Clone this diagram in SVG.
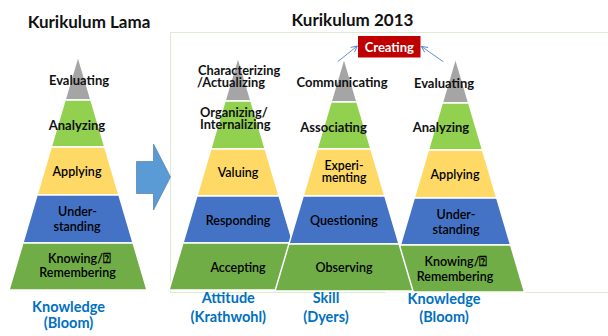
<svg xmlns="http://www.w3.org/2000/svg" width="608" height="336" viewBox="0 0 608 336">
<defs>
<style>
.b{stroke:#fff;stroke-width:1.5;stroke-linejoin:miter}
.g1{fill:#A5A5A5}.g2{fill:#92D050}.y{fill:#FFD966}.bl{fill:#4472C4}.gr{fill:#70AD47}
.gs{font-family:Lato,"Liberation Sans",sans-serif;font-weight:bold;font-size:13px;fill:#111;text-anchor:middle}
.sm{font-size:12.8px}
.st{text-anchor:start}
.cb{font-family:Lato,"DejaVu Sans","Liberation Sans",sans-serif;font-weight:600;font-size:12.5px;fill:#000;text-anchor:middle}
.lab{font-family:Lato,"Liberation Sans",sans-serif;font-weight:bold;font-size:14.5px;fill:#0070C0;text-anchor:middle}
.ttl{font-family:Lato,"Liberation Sans",sans-serif;font-weight:bold;font-size:17px;fill:#111;text-anchor:middle}
.con{stroke:#4472C4;stroke-width:0.8;fill:none}
</style>
<marker id="ah" markerWidth="8" markerHeight="8" refX="7" refY="4" orient="auto" markerUnits="userSpaceOnUse">
<path d="M1,1 L7,4 L1,7" fill="none" stroke="#4472C4" stroke-width="0.8"/>
</marker>
</defs>
<rect width="608" height="336" fill="#fff"/>
<rect x="170.5" y="32.5" width="450" height="260" fill="none" stroke="#DCEBD2" stroke-width="1"/>

<g id="title-lama"><text class="ttl" x="89" y="28">Kurikulum Lama</text></g>
<g id="title-2013"><text class="ttl" x="352.5" y="26">Kurikulum 2013</text></g>

<g id="arrow-block">
<polygon points="136.5,161.5 153.5,161.5 153.5,144 170.5,177 153.5,210 153.5,193.5 136.5,193.5" fill="#5B9BD5" stroke="#41719C" stroke-width="0.6"/>
</g>

<g id="pyramid-lama">
<polygon class="b g1" points="78,56 90.97,100 65.03,100"/>
<polygon class="b g2" points="65.03,100 90.97,100 104.83,147 51.17,147"/>
<polygon class="b y" points="51.17,147 104.83,147 118.99,195 37.01,195"/>
<polygon class="b bl" points="37.01,195 118.99,195 133.14,243 22.86,243"/>
<polygon class="b gr" points="22.86,243 133.14,243 147,290 9,290"/>
<text class="gs" x="79" y="85">Evaluating</text>
<text class="gs" x="77" y="130">Analyzing</text>
<text class="cb" x="77" y="176">Applying</text>
<text class="cb" x="77.5" y="215.7">Under-</text>
<text class="cb" x="77" y="230.7">standing</text>
<text class="cb" x="79.5" y="262.7">Knowing/⍰</text>
<text class="cb" x="77.5" y="277.3">Remembering</text>
<text class="lab" x="68.5" y="311.7">Knowledge</text>
<text class="lab" x="68.5" y="328">(Bloom)</text>
</g>

<g id="pyramid-attitude">
<polygon class="b g1" points="238,57 251.03,101 224.97,101"/>
<polygon class="b g2" points="224.97,101 251.03,101 265.24,149 210.76,149"/>
<polygon class="b y" points="210.76,149 265.24,149 279.16,196 196.84,196"/>
<polygon class="b bl" points="196.84,196 279.16,196 293.08,243 182.92,243"/>
<polygon class="b gr" points="182.92,243 293.08,243 307,290 169,290"/>
<text class="gs sm st" x="198" y="74.5">Characterizing</text>
<text class="gs sm st" x="197" y="86.5">/Actualizing</text>
<text class="gs sm st" x="200" y="116.5">Organizing/</text>
<text class="gs sm st" x="200" y="128.8">Internalizing</text>
<text class="cb" x="238" y="177">Valuing</text>
<text class="cb" x="238" y="225">Responding</text>
<text class="cb" x="238" y="272">Accepting</text>
<text class="lab" x="228.3" y="302.7">Attitude</text>
<text class="lab" x="228.3" y="321.7">(Krathwohl)</text>
</g>

<g id="pyramid-knowledge">
<polygon class="b g1" points="455.5,58 468.77,103 442.23,103"/>
<polygon class="b g2" points="442.23,103 468.77,103 482.63,150 428.37,150"/>
<polygon class="b y" points="428.37,150 482.63,150 496.78,198 414.22,198"/>
<polygon class="b bl" points="414.22,198 496.78,198 510.64,245 400.36,245"/>
<polygon class="b gr" points="400.36,245 510.64,245 524.5,292 386.5,292"/>
<text class="gs" x="444" y="87.5">Evaluating</text>
<text class="gs" x="441" y="132.3">Analyzing</text>
<text class="cb" x="455" y="179">Applying</text>
<text class="cb" x="456" y="219">Under-</text>
<text class="cb" x="456" y="234">standing</text>
<text class="cb" x="456" y="265.7">Knowing/⍰</text>
<text class="cb" x="455" y="280.7">Remembering</text>
<text class="lab" x="444" y="304">Knowledge</text>
<text class="lab" x="444" y="321.7">(Bloom)</text>
</g>

<g id="pyramid-skill">
<polygon class="b g1" points="344,58 357.03,102 330.97,102"/>
<polygon class="b g2" points="330.97,102 357.03,102 370.95,149 317.05,149"/>
<polygon class="b y" points="317.05,149 370.95,149 384.87,196 303.13,196"/>
<polygon class="b bl" points="303.13,196 384.87,196 399.08,244 288.92,244"/>
<polygon class="b gr" points="288.92,244 399.08,244 413,291 275,291"/>
<text class="gs" x="342" y="87">Communicating</text>
<text class="gs" x="333.5" y="131.7">Associating</text>
<text class="cb" x="344" y="169.5" style="font-size:12.3px">Experi-</text>
<text class="cb" x="344" y="181.8" style="font-size:12.3px">menting</text>
<text class="cb" x="344" y="225">Questioning</text>
<text class="cb" x="344" y="271.7">Observing</text>
<text class="lab" x="326" y="303.3">Skill</text>
<text class="lab" x="326" y="322">(Dyers)</text>
</g>

<g id="creating">
<rect x="358" y="36" width="62.5" height="21.5" fill="#C00000"/>
<text x="389.3" y="51.5" style="font-family:Lato,'Liberation Sans',sans-serif;font-weight:bold;font-size:13px;fill:#fff;text-anchor:middle">Creating</text>
</g>

<g id="connectors">
<line class="con" x1="337.7" y1="61.7" x2="357.3" y2="46" marker-end="url(#ah)"/>
<line class="con" x1="443.3" y1="61.7" x2="421.5" y2="46.5" marker-end="url(#ah)"/>
</g>
</svg>
